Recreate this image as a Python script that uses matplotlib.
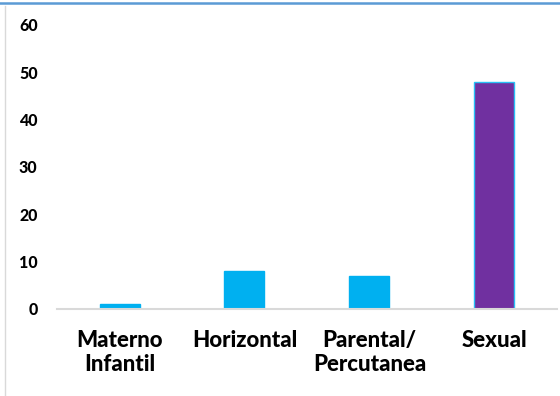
import matplotlib

matplotlib.use("Agg")
import matplotlib.pyplot as plt
from matplotlib.lines import Line2D

categories = ["Materno\nInfantil", "Horizontal", "Parental/\nPercutanea", "Sexual"]
values = [1, 8, 7, 48]
bar_colors = ["#00b0f0", "#00b0f0", "#00b0f0", "#7030a0"]
y_ticks = [0, 10, 20, 30, 40, 50, 60]

plt.rcParams["font.family"] = ["Lato", "DejaVu Sans"]

fig = plt.figure(figsize=(5.6, 3.96), dpi=100)
ax = fig.add_axes([0.1018, 0.2197, 0.8928, 0.7172])

x = range(len(categories))
ax.bar(x, values, width=0.32, color=bar_colors, edgecolor=["#00b0f0"] * 3 + ["#29c0f5"],
       linewidth=1.0, zorder=2)

ax.set_xlim(-0.5, len(categories) - 0.5)
ax.set_ylim(0, 60)
ax.set_yticks(y_ticks)
ax.set_yticklabels([str(t) for t in y_ticks], fontsize=11.5, fontweight="black")
ax.set_xticks(list(x))
ax.set_xticklabels(categories, fontsize=16, fontweight="black", linespacing=1.2)
ax.tick_params(axis="both", length=0)
ax.tick_params(axis="y", pad=14)
ax.tick_params(axis="x", pad=15)

for side in ("top", "right", "left"):
    ax.spines[side].set_visible(False)
ax.spines["bottom"].set_color("#d9d9d9")
ax.spines["bottom"].set_linewidth(1.5)

# frame lines around the chart area
fig.add_artist(Line2D([0, 1], [0.992, 0.992], color="#5b9bd5", linewidth=1.8,
                      transform=fig.transFigure))
fig.add_artist(Line2D([0.009, 0.009], [0, 0.985], color="#d9d9d9", linewidth=1.0,
                      transform=fig.transFigure))

fig.savefig("out.png", dpi=100)
plt.close(fig)
